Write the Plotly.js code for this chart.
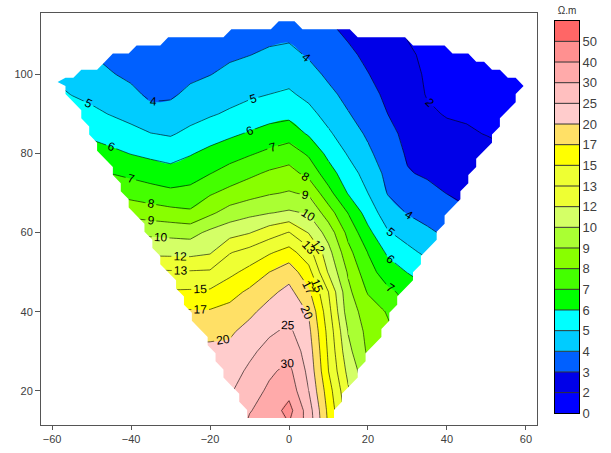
<!DOCTYPE html>
<html><head><meta charset="utf-8">
<script src="https://cdn.plot.ly/plotly-3.0.1.min.js"></script>
<style>html,body{margin:0;padding:0;background:#fff}#chart{width:611px;height:453px}</style>
</head><body><div id="chart"></div>
<script>
const N = null;
// grid node positions (m)
const xs = [-60,-55,-50,-45,-40,-35,-30,-25,-20,-15,-10,-5,0,5,10,15,20,25,30,35,40,45,50,55,60];
const ys = [10,15,20,25,30,35,40,45,50,55,60,65,70,75,80,85,90,95,100,105,110,115];
// apparent resistivity (ohm.m), one row per y, columns follow xs
const rho = [
 [N,N,N,N,N,N,N,N,N,26,33,36,38,28.5,16.8,12.6,N,N,N,N,N,N,N,N,N],
 [N,N,N,N,N,N,N,N,27,25.5,29.7,34.2,43.5,27.5,16.45,12.45,9.8,N,N,N,N,N,N,N,N],
 [N,N,N,N,N,N,N,N,26,24.4,27.8,31.7,36.5,25.0,15.9,12.12,9.6,N,N,N,N,N,N,N,N],
 [N,N,N,N,N,N,N,23,24.4,22.8,25.9,29.2,32.5,23.7,15.0,11.4,9.26,8.8,N,N,N,N,N,N,N],
 [N,N,N,N,N,N,N,21.25,21.4,21.2,23.9,26.7,28.75,22.5,14.67,10.57,8.83,8.5,N,N,N,N,N,N,N],
 [N,N,N,N,N,N,19.3,19.0,19.07,19.58,21.6,24.25,26,21.2,14.33,9.94,8.7,8.2,7.5,N,N,N,N,N,N],
 [N,N,N,N,N,N,17.3,17.33,17.34,17.97,19.4,21.75,23.6,19.73,13.71,9.45,8.57,7.91,7.1,N,N,N,N,N,N],
 [N,N,N,N,N,15.2,15.2,15.26,15.3,16.27,17.56,19.3,21.4,17.53,13.0,9.24,7.91,7.2,6.72,6.2,N,N,N,N,N],
 [N,N,N,N,N,13.3,13.24,13.2,13.28,14.52,15.6,17.0,18.7,15.68,11.78,8.87,7.37,6.52,5.97,5.53,4.8,N,N,N,N],
 [N,N,N,N,11.6,11.5,11.45,11.4,11.79,12.94,13.73,14.77,15.75,13.8,10.67,8.3,6.97,5.84,5.27,4.78,4.3,N,N,N,N],
 [N,N,N,N,9.88,9.8,9.73,9.65,10.47,11.26,11.9,12.56,13.1,11.88,9.57,7.7,6.27,5.09,4.59,4.16,3.84,3.5,N,N,N],
 [N,N,N,8.9,8.67,8.5,8.33,8.17,8.81,9.43,9.74,9.96,10.3,9.92,8.47,6.96,5.56,4.46,3.95,3.68,3.41,3.1,N,N,N],
 [N,N,7.9,7.82,7.64,7.42,7.22,7.3,7.89,8.3,8.63,8.91,9.08,8.86,7.33,5.93,5.0,3.95,3.5,3.24,2.98,2.83,2.7,N,N],
 [N,N,7.2,6.98,6.76,6.54,6.37,6.58,6.97,7.4,7.79,8.15,8.36,7.69,6.44,5.41,4.63,3.73,3.06,2.89,2.72,2.58,2.45,N,N],
 [N,6.6,6.48,6.23,5.97,5.78,5.61,5.93,6.27,6.58,6.9,7.23,7.52,6.85,5.73,4.91,4.19,3.47,2.9,2.69,2.46,2.32,2.2,2.05,N],
 [6.13,6.0,5.79,5.56,5.29,5.03,4.91,5.23,5.56,5.83,6.1,6.37,6.56,5.89,5.14,4.48,3.85,3.22,2.8,2.48,2.19,2.07,1.96,1.86,1.8],
 [5.71,5.47,5.21,4.95,4.7,4.27,4.3,4.67,4.9,5.14,5.42,5.64,5.75,5.28,4.66,4.05,3.58,3.0,2.57,2.12,1.9,1.86,1.84,1.76,1.7],
 [5.29,4.97,4.76,4.5,4.19,3.84,3.88,4.18,4.42,4.65,4.84,5.0,5.13,4.76,4.21,3.75,3.3,2.8,2.37,1.9,1.8,1.76,1.74,1.68,1.6],
 [4.9,4.62,4.38,4.05,3.84,3.59,3.63,3.84,3.98,4.2,4.41,4.57,4.67,4.31,3.84,3.46,3.03,2.62,2.21,1.84,1.72,1.68,1.64,1.6,1.52],
 [4.55,4.28,4.01,3.78,3.59,3.34,3.38,3.59,3.73,3.87,3.98,4.15,4.25,3.9,3.54,3.18,2.8,2.44,2.08,1.8,1.66,1.6,1.56,1.52,1.44],
 [4.2,3.93,3.75,3.53,3.34,3.1,3.13,3.34,3.48,3.62,3.74,3.78,3.83,3.6,3.24,2.89,2.59,2.29,1.94,1.76,1.6,1.54,1.5,N,N],
 [N,N,N,N,N,N,N,N,3.23,3.37,3.49,3.45,3.4,3.4,2.94,2.6,2.4,2.15,1.9,N,N,N,N,N,N]
];
// class limits of the legend (ohm.m) and their colours
const levels = [0,2,3,4,5,6,7,8,9,10,12,13,15,17,20,25,30,40,50];
const levelColors = ['#0000FF','#0000E8','#0060FF','#00CCFF','#00FFFF','#00FF00','#44FF00','#88FF00','#AAFF33','#D4FF66','#EEFF33','#EEFF33','#FFFF00','#FFE066','#FFCCCC','#FFBFBF','#FFAAAA','#FF9090','#FF6666'];
// stretches of profile (m) on which each limit line carries a label
const labelSpans = {
  2: [[25, 40]],
  4: [[-55, -30], [-5, 15], [20, 35]],
  5: [[-60, -40], [-20, 0], [10, 30]],
  6: [[-55, -35], [-20, 0], [10, 30]],
  7: [[-50, -30], [-15, 5], [15, 30]],
  8: [[-45, -25], [-5, 15]],
  9: [[-45, -25], [-5, 15]],
  10: [[-45, -20], [0, 15]],
  12: [[-40, -15], [0, 15]],
  13: [[-40, -15], [0, 15]],
  15: [[-35, -10], [0, 15]],
  17: [[-35, -10], [0, 15]],
  20: [[-25, -5], [0, 15]],
  25: [[-20, 5]],
  30: [[-15, 5]]
};
// outline of the surveyed section (m)
const outlineX = [-10.6,-58.8,-55.5,-49.3,-47.1,-41.4,-31.5,-17.6,-4.0,0,4.1,18.2,31.5,42.2,47.8,51.9,55.9,58.6,58.6,11.3];
const outlineY = [13.1,99.3,100.2,102.2,104.3,106.3,108.4,110.4,112.5,113.5,112.5,110.4,108.4,106.3,104.3,102.2,100.2,99.0,95.6,13.1];

const FONT = 'Arial, "Liberation Sans", sans-serif';

function toIdx(v) {
  if (v == null) return null;
  for (let k = 0; k < levels.length - 1; k++) {
    if (v <= levels[k + 1]) return k + (v - levels[k]) / (levels[k + 1] - levels[k]);
  }
  return levels.length - 1 + (v - levels[levels.length - 1]) / 10;
}
const zIdx = rho.map(r => r.map(toIdx));
const nL = levels.length - 1; // 18

const traces = [];
// filled classes
traces.push({
  type: 'contour', x: xs, y: ys, z: zIdx, connectgaps: true,
  contours: {start: 1, end: nL, size: 1, coloring: 'fill', showlines: false},
  colorscale: levelColors.map((c, k) => [k / nL, c]),
  line: {width: 0}, showscale: false, hoverinfo: 'skip'
});
// limit lines, split along the profile so labels sit on the chosen stretches
for (let k = 1; k <= nL; k++) {
  const L = levels[k];
  const spans = (labelSpans[L] || []).map(([a, b]) => [xs.indexOf(a), xs.indexOf(b)]).sort((p, q) => p[0] - q[0]);
  const wins = [];
  let cur = 0;
  spans.forEach(([c0, c1]) => { if (c0 > cur) wins.push([cur, c0, false]); wins.push([c0, c1, true]); cur = c1; });
  if (cur < xs.length - 1) wins.push([cur, xs.length - 1, false]);
  wins.forEach(([c0, c1, lab]) => {
    traces.push({
      type: 'contour', x: xs.slice(c0, c1 + 1), y: ys, connectgaps: true,
      z: zIdx.map(r => r.slice(c0, c1 + 1).map(v => v == null ? null : v - k + L)),
      contours: {start: L, end: L, size: 1, coloring: 'none', showlabels: lab,
        labelfont: {family: FONT, size: 12, color: '#000'}},
      line: {color: '#000', width: 0.6, smoothing: 0},
      showscale: false, hoverinfo: 'skip'
    });
  });
}

// blanking: stair outline from a grid of cells whose centre lies inside the outline
function inside(px, py) {
  let c = false;
  for (let i = 0, j = outlineX.length - 1; i < outlineX.length; j = i++) {
    const xi = outlineX[i], yi = outlineY[i], xj = outlineX[j], yj = outlineY[j];
    if (((yi > py) !== (yj > py)) && (px < (xj - xi) * (py - yi) / (yj - yi) + xi)) c = !c;
  }
  return c;
}
const gx = 2, gy = 2.049, gx0 = -10.6, gy0 = 13.1, nBands = 49;
const bands = [];
for (let k = 0; k < nBands; k++) {
  const y0 = gy0 + k * gy, y1 = y0 + gy, yc = (y0 + y1) / 2;
  let a = null, b = null;
  for (let i = -35; i <= 40; i++) {
    const l = gx0 + i * gx;
    if (inside(l + gx / 2, yc)) {
      if (a === null || l < a) a = l;
      if (b === null || l + gx > b) b = l + gx;
    }
  }
  if (a !== null) bands.push({y0, y1, a, b});
}
let sp = [];
bands.forEach(bd => { sp.push([bd.a, bd.y0], [bd.a, bd.y1]); });
for (let k = bands.length - 1; k >= 0; k--) { sp.push([bands[k].b, bands[k].y1], [bands[k].b, bands[k].y0]); }
const same = (p, q) => Math.abs(p[0] - q[0]) < 1e-6 && Math.abs(p[1] - q[1]) < 1e-6;
sp = sp.filter((p, i) => i === 0 || !same(p, sp[i - 1]));
if (same(sp[0], sp[sp.length - 1])) sp.pop();
let changed = true;
while (changed) {
  changed = false;
  for (let i = 0; i < sp.length; i++) {
    const p = sp[(i - 1 + sp.length) % sp.length], c = sp[i], q = sp[(i + 1) % sp.length];
    const cr = (c[0] - p[0]) * (q[1] - c[1]) - (c[1] - p[1]) * (q[0] - c[0]);
    if (Math.abs(cr) < 1e-9) { sp.splice(i, 1); changed = true; break; }
  }
}
const n = sp.length;
let area = 0;
for (let i = 0; i < n; i++) { const p = sp[i], q = sp[(i + 1) % n]; area += p[0] * q[1] - q[0] * p[1]; }
const convex = sp.map((c, i) => {
  const p = sp[(i - 1 + n) % n], q = sp[(i + 1) % n];
  const cr = (c[0] - p[0]) * (q[1] - c[1]) - (c[1] - p[1]) * (q[0] - c[0]);
  return (area < 0 ? cr < 0 : cr > 0) && Math.abs(c[1] - gy0) > 1e-6;
});
const cp = [];
sp.forEach((c, i) => {
  if (!convex[i]) { cp.push(c); return; }
  const ip = (i - 1 + n) % n, iq = (i + 1) % n, p = sp[ip], q = sp[iq];
  const e1 = [c[0] - p[0], c[1] - p[1]], e2 = [q[0] - c[0], q[1] - c[1]];
  const l1 = Math.hypot(e1[0], e1[1]), l2 = Math.hypot(e2[0], e2[1]);
  const c1 = Math.min(Math.abs(e1[1]) < 1e-9 ? gx : gy, convex[ip] ? l1 / 2 : l1);
  const c2 = Math.min(Math.abs(e2[1]) < 1e-9 ? gx : gy, convex[iq] ? l2 / 2 : l2);
  cp.push([c[0] - e1[0] / l1 * c1, c[1] - e1[1] / l1 * c1]);
  cp.push([c[0] + e2[0] / l2 * c2, c[1] + e2[1] / l2 * c2]);
});
let s0 = 0;
cp.forEach((p, i) => { if (p[1] < cp[s0][1] - 1e-9 || (Math.abs(p[1] - cp[s0][1]) < 1e-9 && p[0] < cp[s0][0])) s0 = i; });
const ring = cp.slice(s0).concat(cp.slice(0, s0));
const mx = ring.map(p => p[0]), my = ring.map(p => p[1]);
const ax0 = mx[0], ay0 = my[0];
if (area < 0) {
  mx.push(ax0, ax0, 90, 90, -90, -90, ax0, ax0);
  my.push(ay0, -10, -10, 140, 140, -10, -10, ay0);
} else {
  mx.push(ax0, ax0, -90, -90, 90, 90, ax0, ax0);
  my.push(ay0, -10, -10, 140, 140, -10, -10, ay0);
}
traces.push({type: 'scatter', mode: 'lines', x: mx, y: my, fill: 'toself', fillcolor: '#FFFFFF',
  line: {width: 0, color: 'rgba(0,0,0,0)'}, hoverinfo: 'skip', showlegend: false});

// legend bar (class boxes)
const stepScale = [];
levelColors.forEach((c, k) => { stepScale.push([k / (nL + 1), c]); stepScale.push([(k + 1) / (nL + 1), c]); });
traces.push({
  type: 'heatmap', xaxis: 'x2', yaxis: 'y2', x: [0.5], y: levels.map((_, k) => k + 0.5),
  z: levels.map((_, k) => [k]), zmin: -0.5, zmax: nL + 0.5, colorscale: stepScale,
  showscale: false, hoverinfo: 'skip'
});
const sx = [], sy = [];
for (let k = 1; k <= nL; k++) { sx.push(0, 1, null); sy.push(k, k, null); }
traces.push({type: 'scatter', mode: 'lines', xaxis: 'x2', yaxis: 'y2', x: sx, y: sy,
  line: {color: '#333', width: 1}, hoverinfo: 'skip', showlegend: false});

const W = 611, H = 453, mL = 41, mR = 31, mT = 13, mB = 28;
const pw = W - mL - mR, ph = H - mT - mB;
const layout = {
  width: W, height: H, margin: {l: mL, r: mR, t: mT, b: mB, pad: 0},
  paper_bgcolor: '#fff', plot_bgcolor: '#fff', showlegend: false,
  font: {family: FONT, size: 11, color: '#404040'},
  xaxis: {domain: [0, 496 / pw], range: [-62.8, 62.8], dtick: 20, tick0: 0,
    ticks: 'outside', ticklen: 4, tickcolor: '#555', showline: true, mirror: true,
    linecolor: '#555', linewidth: 1, showgrid: false, zeroline: false,
    tickfont: {family: FONT, size: 11, color: '#404040'}},
  yaxis: {range: [11.34, 115.56], dtick: 20, tick0: 0,
    ticks: 'outside', ticklen: 5, tickcolor: '#555', showline: true, mirror: true,
    linecolor: '#555', linewidth: 1, showgrid: false, zeroline: false,
    tickfont: {family: FONT, size: 11, color: '#404040'}},
  xaxis2: {domain: [514 / pw, 538 / pw], anchor: 'y2', range: [0, 1], side: 'top',
    showticklabels: false, ticks: '', showline: true, mirror: true, linecolor: '#000',
    linewidth: 1, showgrid: false, zeroline: false, fixedrange: true,
    title: {text: 'Ω.m', font: {family: FONT, size: 10, color: '#333'}, standoff: 3}},
  yaxis2: {domain: [11.7 / ph, 404.3 / ph], anchor: 'x2', range: [0, nL + 1], side: 'right',
    tickvals: levels.map((_, k) => k), ticktext: levels.map(String), ticks: '',
    showline: true, mirror: true, linecolor: '#000', linewidth: 1, showgrid: false,
    zeroline: false, fixedrange: true,
    tickfont: {family: FONT, size: 13, color: '#404040'}}
};
Plotly.newPlot('chart', traces, layout, {staticPlot: true, displayModeBar: false});
</script></body></html>
